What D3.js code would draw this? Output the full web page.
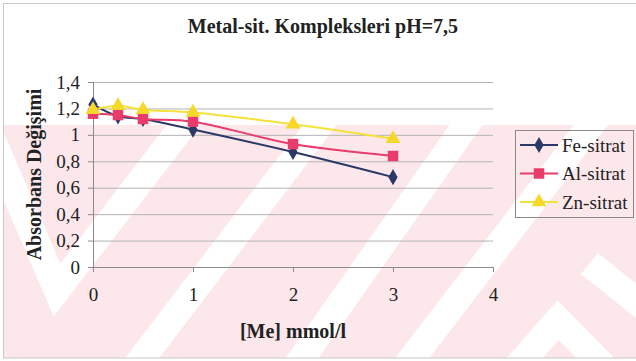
<!DOCTYPE html>
<html>
<head>
<meta charset="utf-8">
<script src="https://cdn.jsdelivr.net/npm/d3@7"></script>
<style>
  body { margin: 0; background: #fff; }
  svg { display: block; }
  svg text { font-family: "Times New Roman", "Liberation Serif", "DejaVu Serif", serif; }
</style>
</head>
<body>
<svg width="636" height="361"></svg>
<script>
// data
const xValues = [0, 0.25, 0.5, 1, 2, 3];
const feSitrat = [1.23, 1.14, 1.12, 1.04, 0.87, 0.68];
const alSitrat = [1.16, 1.15, 1.12, 1.10, 0.93, 0.84];
const znSitrat = [1.19, 1.22, 1.19, 1.17, 1.08, 0.97];
const seriesNames = ["Fe-sitrat", "Al-sitrat", "Zn-sitrat"];
const xTicks = [0, 1, 2, 3, 4];
const yTicks = [0, 0.2, 0.4, 0.6, 0.8, 1, 1.2, 1.4];

const width = 636;
const height = 361;
const margin = { left: 93, right: 143, top: 82, bottom: 94 };

const series = [
  { name: seriesNames[0], values: feSitrat, color: "#2c3868", fill: "#2c3868", symbol: d3.symbolDiamond, size: 75 },
  { name: seriesNames[1], values: alSitrat, color: "#ea3c6c", fill: "#ea3c6c", symbol: d3.symbolSquare, size: 110 },
  { name: seriesNames[2], values: znSitrat, color: "#f4e23a", fill: "#f5d82a", symbol: d3.symbolTriangle, size: 95 }
];

const svg = d3.select("svg");

// background watermark (pink with white diagonal bands)
const bg = svg.append("g");
bg.append("clipPath").attr("id", "wm")
  .append("rect").attr("x", 4).attr("y", 125).attr("width", 632).attr("height", 233);
bg.append("rect").attr("x", 4).attr("y", 125).attr("width", 632).attr("height", 233)
  .attr("fill", "#fce7eb");
const bands = [
  [[-25, 100], [57, 290], [195, 110]],
  [[140, 361], [335, 105]],
  [[300, 361], [480, 105]],
  [[410, 361], [610, 100]],
  [[510, 375], [558, 320], [615, 378]],
  [[600, 272], [650, 312]]
];
bg.append("g").attr("clip-path", "url(#wm)")
  .selectAll("path").data(bands).join("path")
  .attr("d", d3.line())
  .attr("fill", "none")
  .attr("stroke", "#fff").attr("stroke-width", 27)
  .attr("stroke-linejoin", "miter").attr("stroke-linecap", "square");

// outer chart border
svg.append("rect").attr("x", 3.5).attr("y", 3.5).attr("width", 640).attr("height", 354.5)
  .attr("fill", "none").attr("stroke", "#c8c8c8");

const x = d3.scaleLinear().domain([0, 4]).range([margin.left, width - margin.right]);
const y = d3.scaleLinear().domain([0, 1.4]).range([height - margin.bottom, margin.top]);

const fmt = d => String(+d.toFixed(1)).replace(".", ",");

// gridlines
svg.append("g")
  .attr("transform", `translate(${margin.left},0)`)
  .call(d3.axisLeft(y).tickValues(yTicks.slice(1)).tickSize(-(x.range()[1] - x.range()[0])).tickFormat(""))
  .call(g => g.select(".domain").remove())
  .call(g => g.selectAll("line").attr("stroke", "#b4b4b4"));

// y axis
svg.append("g")
  .attr("transform", `translate(${margin.left},0)`)
  .call(d3.axisLeft(y).tickValues(yTicks).tickSize(5).tickPadding(8).tickFormat(fmt))
  .attr("font-family", null)
  .call(g => g.select(".domain").attr("stroke", "#8a8a8a"))
  .call(g => g.selectAll("line").attr("stroke", "#8a8a8a"))
  .call(g => g.selectAll("text").attr("font-size", 19).attr("fill", "#222"));

// x axis
svg.append("g")
  .attr("transform", `translate(0,${y(0)})`)
  .call(d3.axisBottom(x).tickValues(xTicks).tickSize(5).tickPadding(16).tickFormat(d3.format("d")))
  .attr("font-family", null)
  .call(g => g.select(".domain").attr("stroke", "#8a8a8a"))
  .call(g => g.selectAll("line").attr("stroke", "#8a8a8a"))
  .call(g => g.selectAll("text").attr("font-size", 19).attr("fill", "#222"));

// lines
const line = d3.line()
  .x((d, i) => x(xValues[i]))
  .y(d => y(d))
  .curve(d3.curveCatmullRom.alpha(0.5));

series.forEach(s => {
  svg.append("path")
    .attr("d", line(s.values))
    .attr("fill", "none")
    .attr("stroke", s.color)
    .attr("stroke-width", 2);
});

series.forEach(s => {
  svg.append("g").selectAll("path")
    .data(s.values)
    .join("path")
    .attr("transform", (d, i) => `translate(${x(xValues[i])},${y(d)})`)
    .attr("d", d3.symbol().type(s.symbol).size(s.size))
    .attr("fill", s.fill);
});

// title
svg.append("text")
  .attr("x", 323).attr("y", 33)
  .attr("text-anchor", "middle")
  .attr("font-size", 20).attr("font-weight", "bold").attr("fill", "#222")
  .text("Metal-sit. Kompleksleri pH=7,5");

// axis titles
svg.append("text")
  .attr("x", (x.range()[0] + x.range()[1]) / 2).attr("y", 338)
  .attr("text-anchor", "middle")
  .attr("font-size", 20).attr("font-weight", "bold").attr("fill", "#222")
  .text("[Me] mmol/l");

svg.append("text")
  .attr("transform", `translate(41,${(y.range()[0] + y.range()[1]) / 2}) rotate(-90)`)
  .attr("text-anchor", "middle")
  .attr("font-size", 20).attr("font-weight", "bold").attr("fill", "#222")
  .text("Absorbans Değişimi");

// legend
const legend = svg.append("g").attr("transform", "translate(515,130)");
legend.append("rect")
  .attr("x", 0.5).attr("y", 0.5).attr("width", 118).attr("height", 87)
  .attr("fill", "none").attr("stroke", "#8a8a8a");

const item = legend.selectAll("g.item").data(series).join("g")
  .attr("class", "item")
  .attr("transform", (d, i) => `translate(0,${15 + i * 28.5})`);
item.append("line")
  .attr("x1", 5).attr("x2", 43)
  .attr("stroke", d => d.color).attr("stroke-width", 2);
item.append("path")
  .attr("transform", "translate(24,0)")
  .attr("d", d => d3.symbol().type(d.symbol).size(d.size)())
  .attr("fill", d => d.fill);
item.append("text")
  .attr("x", 47).attr("y", 6.5)
  .attr("font-size", 19).attr("fill", "#222")
  .text(d => d.name);
</script>
</body>
</html>
